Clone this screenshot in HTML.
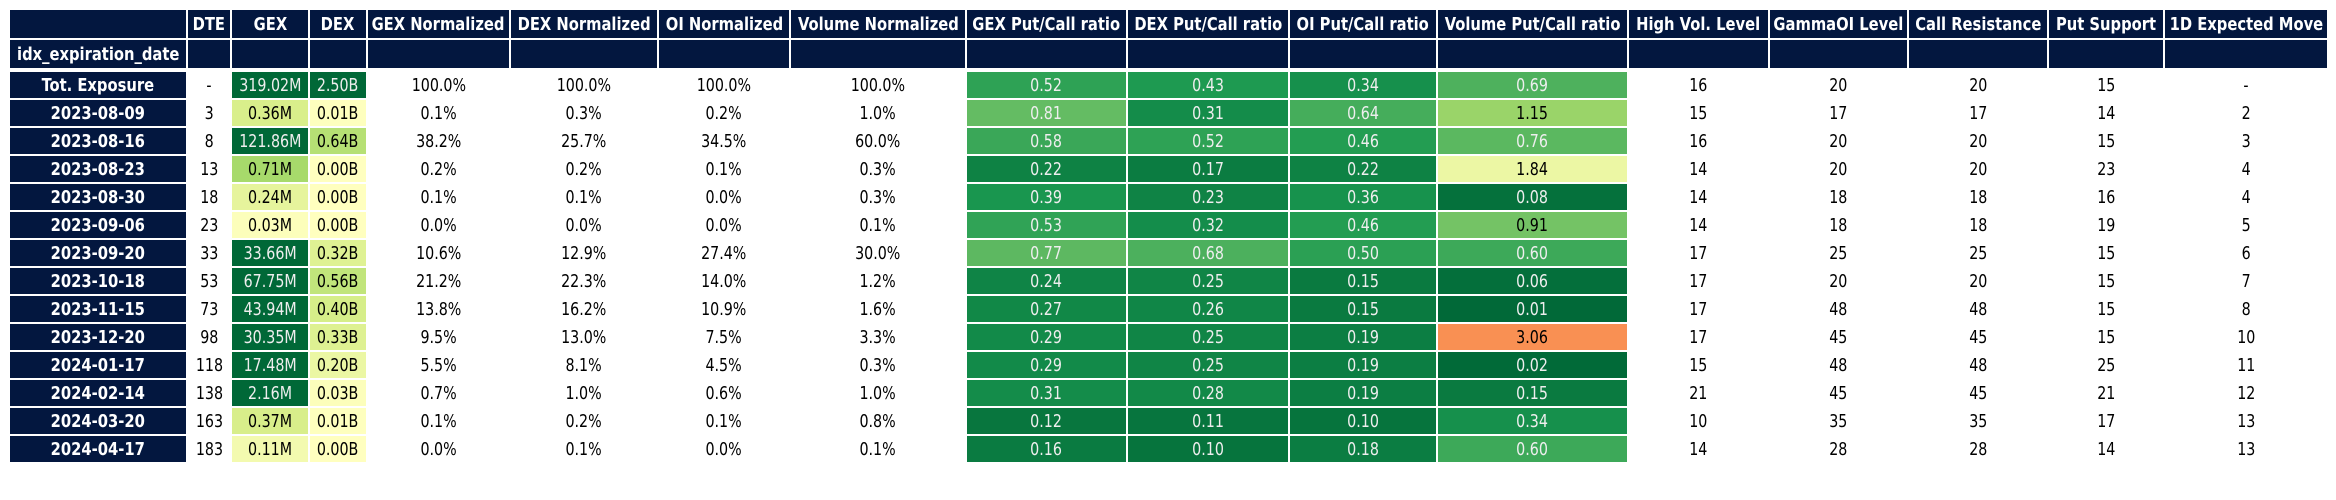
<!DOCTYPE html>
<html><head><meta charset="utf-8">
<style>
html,body{margin:0;padding:0;background:#fff;width:2336px;height:500px;overflow:hidden}
#t{position:relative;width:2336px;height:500px;font-family:"DejaVu Sans Condensed","DejaVu Sans","Liberation Sans",sans-serif}
.c{position:absolute;display:flex;align-items:center;justify-content:center;font-size:18px;white-space:nowrap;box-sizing:border-box;overflow:visible}
.c span{display:inline-block;transform:scaleX(0.88);transform-origin:center}
.h{background:#03173f;color:#fff;font-weight:bold;font-size:18px}
.h span{transform:scaleX(0.91)}
</style></head><body>
<div id="t"></div>
<script>
const headers=["DTE","GEX","DEX","GEX Normalized","DEX Normalized","OI Normalized","Volume Normalized","GEX Put/Call ratio","DEX Put/Call ratio","OI Put/Call ratio","Volume Put/Call ratio","High Vol. Level","GammaOI Level","Call Resistance","Put Support","1D Expected Move"];
const dates=["Tot. Exposure","2023-08-09","2023-08-16","2023-08-23","2023-08-30","2023-09-06","2023-09-20","2023-10-18","2023-11-15","2023-12-20","2024-01-17","2024-02-14","2024-03-20","2024-04-17"];
const dte=["-","3","8","13","18","23","33","53","73","98","118","138","163","183"];
const gex=[319.02,0.36,121.86,0.71,0.24,0.03,33.66,67.75,43.94,30.35,17.48,2.16,0.37,0.11];
const dex=[2.50,0.01,0.64,0.00,0.00,0.00,0.32,0.56,0.40,0.33,0.20,0.03,0.01,0.00];
const gexN=[100.0,0.1,38.2,0.2,0.1,0.0,10.6,21.2,13.8,9.5,5.5,0.7,0.1,0.0];
const dexN=[100.0,0.3,25.7,0.2,0.1,0.0,12.9,22.3,16.2,13.0,8.1,1.0,0.2,0.1];
const oiN=[100.0,0.2,34.5,0.1,0.0,0.0,27.4,14.0,10.9,7.5,4.5,0.6,0.1,0.0];
const volN=[100.0,1.0,60.0,0.3,0.3,0.1,30.0,1.2,1.6,3.3,0.3,1.0,0.8,0.1];
const gexPC=[0.52,0.81,0.58,0.22,0.39,0.53,0.77,0.24,0.27,0.29,0.29,0.31,0.12,0.16];
const dexPC=[0.43,0.31,0.52,0.17,0.23,0.32,0.68,0.25,0.26,0.25,0.25,0.28,0.11,0.10];
const oiPC=[0.34,0.64,0.46,0.22,0.36,0.46,0.50,0.15,0.15,0.19,0.19,0.19,0.10,0.18];
const volPC=[0.69,1.15,0.76,1.84,0.08,0.91,0.60,0.06,0.01,3.06,0.02,0.15,0.34,0.60];
const highVol=[16,15,16,14,14,14,17,17,17,17,15,21,10,14];
const gammaOI=[20,17,20,20,18,18,25,20,48,45,48,45,35,28];
const callRes=[20,17,20,20,18,18,25,20,48,45,48,45,35,28];
const putSup=[15,14,15,23,16,19,15,15,15,15,25,21,17,14];
const move=["-","2","3","4","4","5","6","7","8","10","11","12","13","13"];

const lefts=[10,188,232,310,368,511,659,791,967,1128,1290,1438,1629,1770,1909,2049,2165,2329];
const stops=[[0,[165,0,38]],[.1,[215,48,39]],[.2,[244,109,67]],[.3,[253,174,97]],[.4,[254,224,139]],[.5,[255,255,191]],[.6,[217,239,139]],[.7,[166,217,106]],[.8,[102,189,99]],[.9,[26,152,80]],[1,[0,104,55]]];
function cmap(t){t=Math.max(0,Math.min(1,t));for(let i=1;i<stops.length;i++){if(t<=stops[i][0]){const a=stops[i-1],b=stops[i],f=(t-a[0])/(b[0]-a[0]);return a[1].map((v,k)=>Math.round(v+(b[1][k]-v)*f));}}return stops[stops.length-1][1];}
const T=document.getElementById('t');
function cell(col,y,h,text,cls,rgb,name){
  const d=document.createElement('div');
  d.className='c '+(cls||'');
  d.style.left=lefts[col]+'px';d.style.top=y+'px';
  d.style.width=(lefts[col+1]-lefts[col]-2)+'px';d.style.height=h+'px';
  if(rgb){d.style.background='rgb('+rgb.join(',')+')';const l=(0.299*rgb[0]+0.587*rgb[1]+0.114*rgb[2])/255;d.style.color=l<0.62?'#eee':'#000';}
  const s=document.createElement('span');
  s.textContent=text;
  d.appendChild(s);
  
  
  T.appendChild(d);
}
cell(0,10,28,'','h',null,'header-corner');
headers.forEach((h,i)=>cell(i+1,10,28,h,'h',null,'column-header'));
cell(0,40,28,'idx_expiration_date','h',null,'index-name-header');
headers.forEach((h,i)=>cell(i+1,40,28,'','h',null,'header-spacer'));
const pct=v=>v.toFixed(1)+'%';
dates.forEach((dt,r)=>{
  const y=72+28*r,h=26;
  cell(0,y,h,dt,'h',null,'row-label');
  cell(1,y,h,dte[r],'',null,'dte-cell');
  cell(2,y,h,gex[r].toFixed(2)+'M','',cmap(0.5+0.5*gex[r]/1.8),'gex-cell');
  cell(3,y,h,dex[r].toFixed(2)+'B','',cmap(0.5+0.5*dex[r]/1.9),'dex-cell');
  cell(4,y,h,pct(gexN[r]),'',null,'gex-normalized-cell');
  cell(5,y,h,pct(dexN[r]),'',null,'dex-normalized-cell');
  cell(6,y,h,pct(oiN[r]),'',null,'oi-normalized-cell');
  cell(7,y,h,pct(volN[r]),'',null,'volume-normalized-cell');
  cell(8,y,h,gexPC[r].toFixed(2),'',cmap(1-gexPC[r]/4.1),'gex-put-call-cell');
  cell(9,y,h,dexPC[r].toFixed(2),'',cmap(1-dexPC[r]/4.1),'dex-put-call-cell');
  cell(10,y,h,oiPC[r].toFixed(2),'',cmap(1-oiPC[r]/4.1),'oi-put-call-cell');
  cell(11,y,h,volPC[r].toFixed(2),'',cmap(1-volPC[r]/4.1),'volume-put-call-cell');
  cell(12,y,h,String(highVol[r]),'',null,'high-vol-level-cell');
  cell(13,y,h,String(gammaOI[r]),'',null,'gamma-oi-level-cell');
  cell(14,y,h,String(callRes[r]),'',null,'call-resistance-cell');
  cell(15,y,h,String(putSup[r]),'',null,'put-support-cell');
  cell(16,y,h,move[r],'',null,'expected-move-cell');
});
</script>
</body></html>
